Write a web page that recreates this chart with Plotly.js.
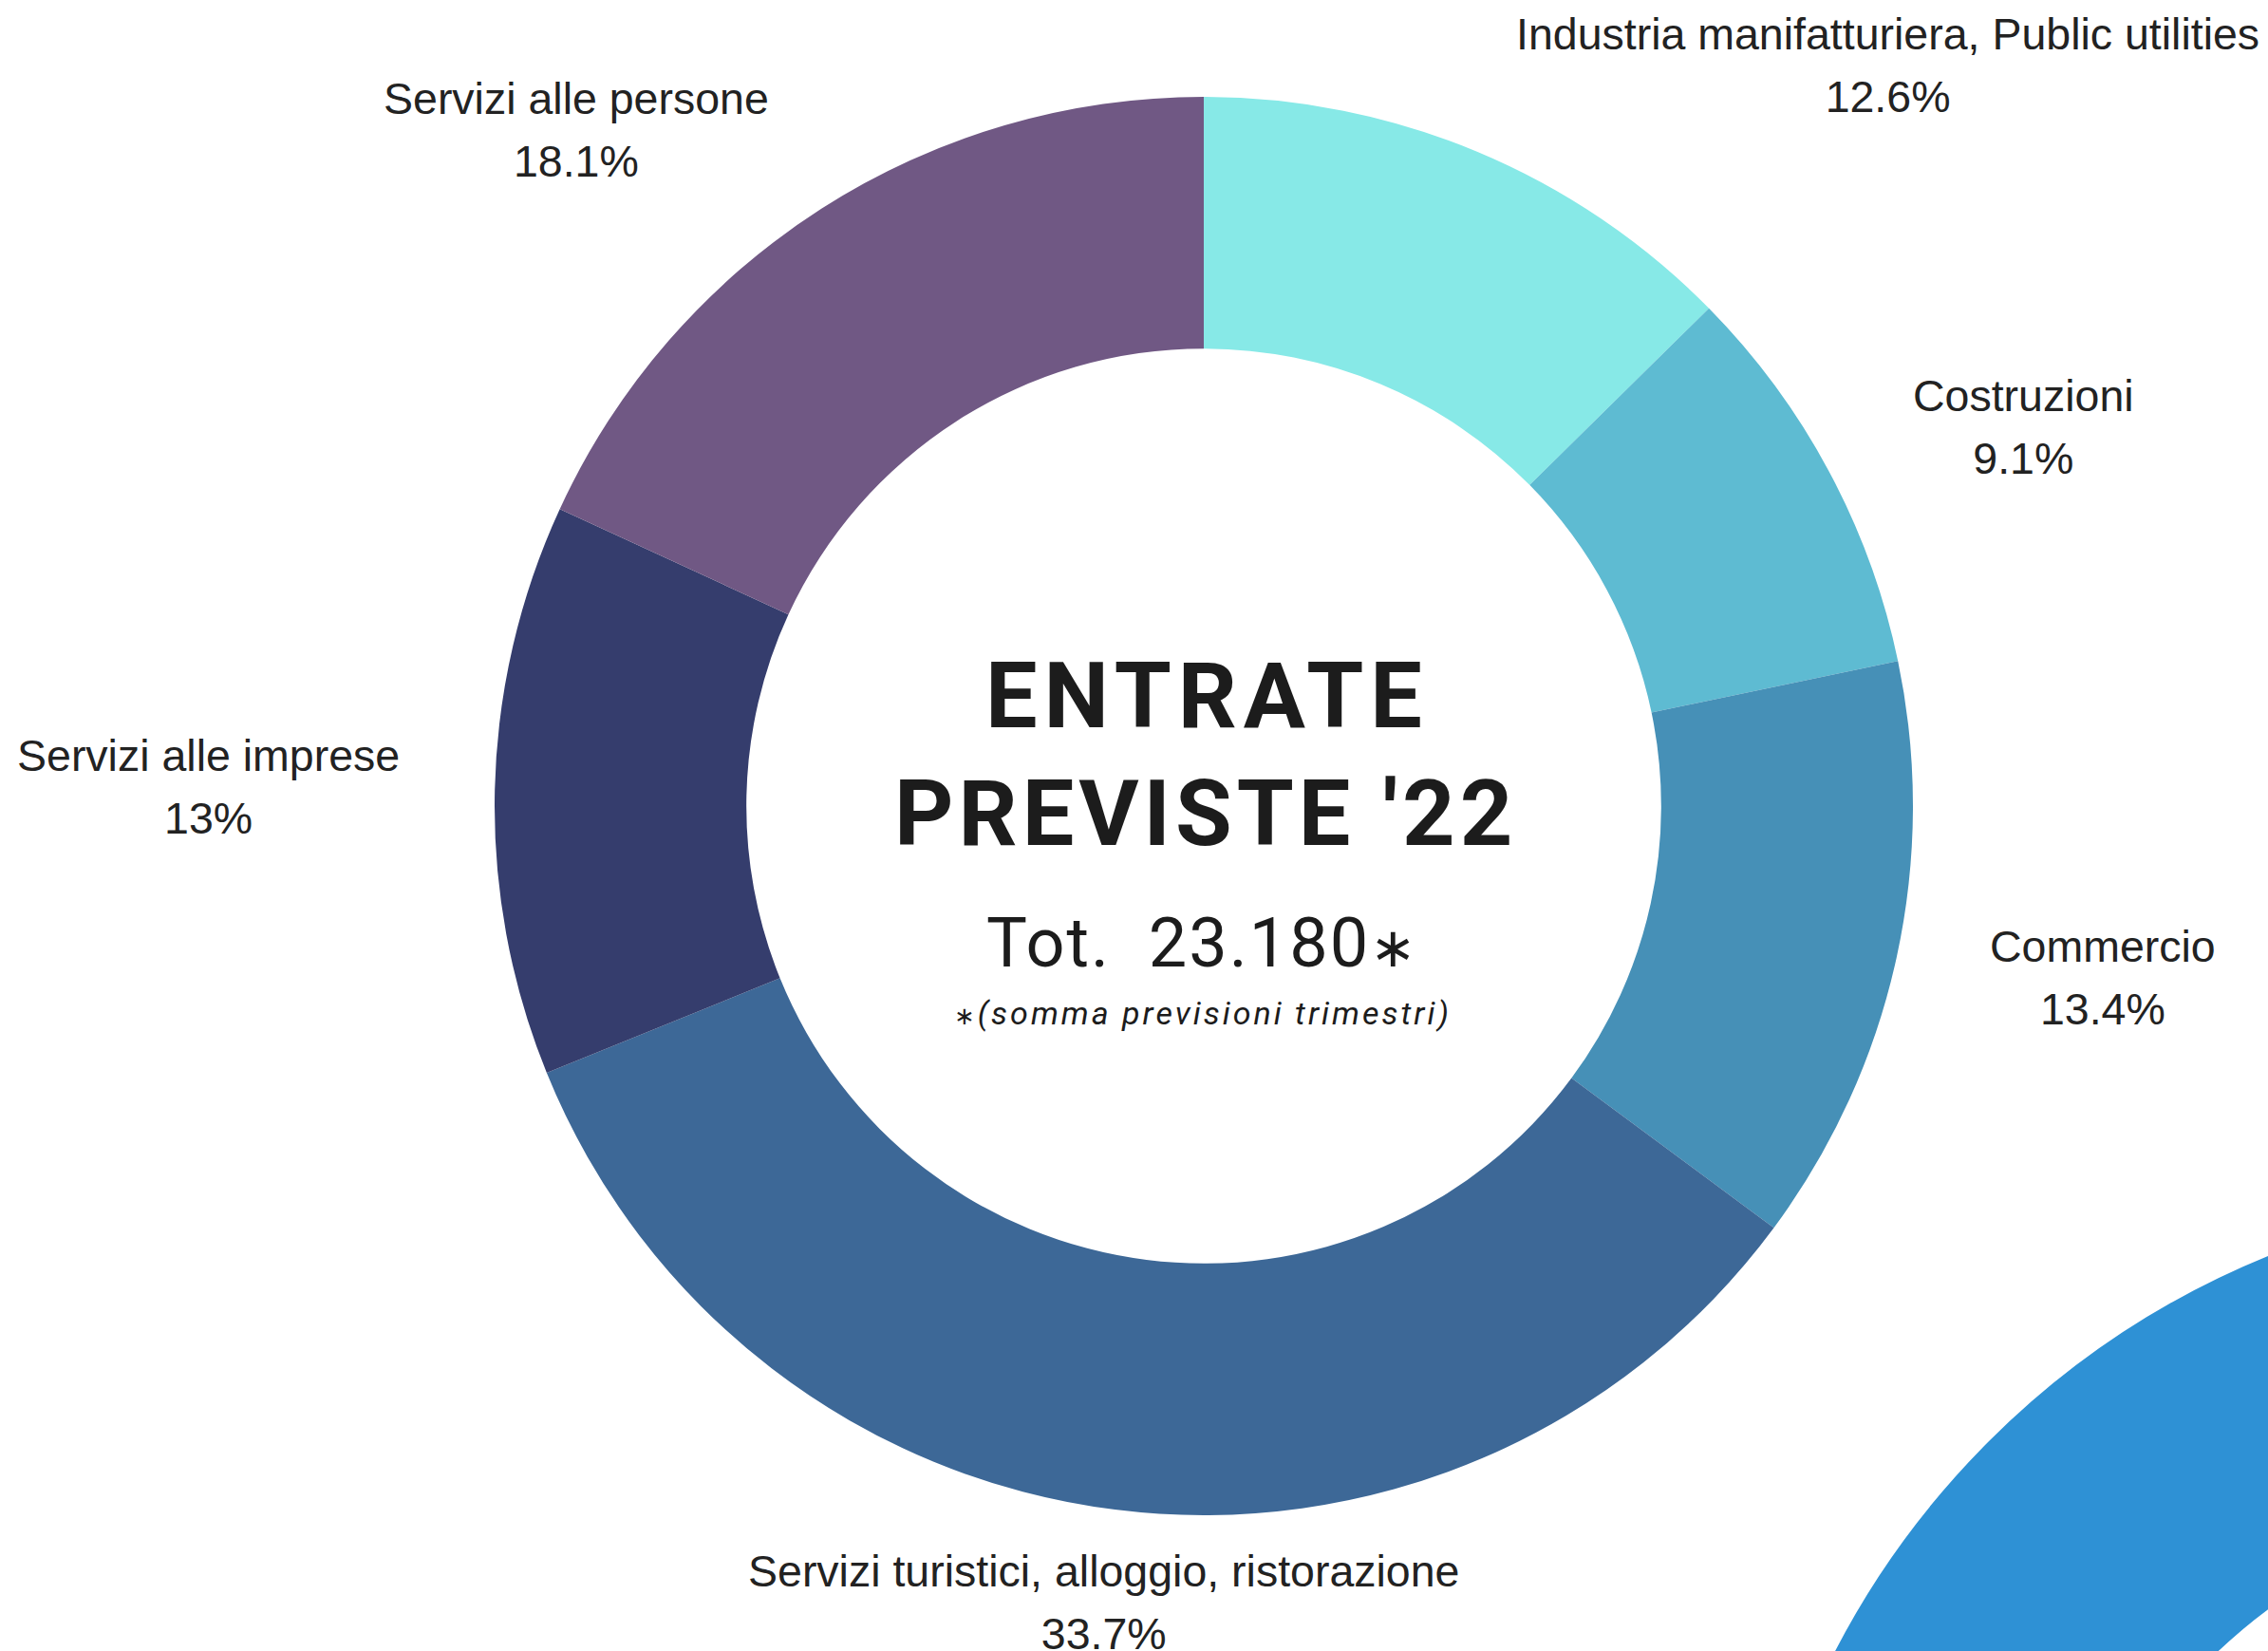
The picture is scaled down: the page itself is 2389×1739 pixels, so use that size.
<!DOCTYPE html>
<html>
<head>
<meta charset="utf-8">
<script src="https://cdn.plot.ly/plotly-3.0.1.min.js"></script>
<style>
  html, body { margin: 0; padding: 0; background: #ffffff; }
  #chart { width: 2389px; height: 1739px; }
</style>
</head>
<body>
<div id="chart"></div>
<script>
// settori (ordine in senso orario dall'alto)
const sectors = [
  "Industria manifatturiera, Public utilities",
  "Costruzioni",
  "Commercio",
  "Servizi turistici, alloggio, ristorazione",
  "Servizi alle imprese",
  "Servizi alle persone"
];

// entrate previste 2022 per settore (somma trimestri, totale 23.180)
const entrate = [2925, 2110, 3110, 7817, 3017, 4201];

const sectorColors = ["#87E9E7", "#5EBBD2", "#4690B7", "#3D6897", "#353D6D", "#705884"];

const titleLines = ["ENTRATE", "PREVISTE '22"];
const totalLabel = "Tot.  23.180";
const noteLabel = "(somma previsioni trimestri)";

const W = 2389, H = 1739;
const px = v => v / W;
const py = v => 1 - v / H;

// geometria della ciambella (pixel)
const CX = 1268, CY = 849, R = 747;
const LABEL_R = R * 1.132;

const donut = {
  type: "pie",
  labels: sectors,
  values: entrate,
  sort: false,
  direction: "clockwise",
  rotation: 0,
  hole: 0.645,
  marker: { colors: sectorColors, line: { width: 0 } },
  textinfo: "none",
  domain: { x: [px(CX - R), px(CX + R)], y: [py(CY + R), py(CY - R)] },
  showlegend: false,
  hoverinfo: "none"
};

// percentuale come la scrive plotly (3 cifre significative)
function formatPct(v) {
  let s = (v * 100).toPrecision(3);
  if (s.indexOf(".") !== -1) s = s.replace(/[.]?0+$/, "");
  return s + "%";
}

// etichette esterne: ancorate sul raggio medio di ogni fetta
const total = entrate.reduce((a, b) => a + b, 0);
let cum = 0;
const sliceLabels = sectors.map((name, i) => {
  const mid = (cum + entrate[i] / 2) / total * 2 * Math.PI;
  cum += entrate[i];
  const s = Math.sin(mid), c = Math.cos(mid);
  const anchor = Math.abs(s) < 0.25 ? "center" : (s > 0 ? "left" : "right");
  return {
    text: '<span style="font-size:46.5px">' + name + "<br>" + formatPct(entrate[i] / total) + "</span>",
    x: px(CX + LABEL_R * s), y: py(CY - LABEL_R * c),
    xref: "paper", yref: "paper",
    xanchor: anchor, yanchor: "middle", align: "center", showarrow: false,
    font: { family: "Liberation Sans, Arial, sans-serif", size: 50.4, color: "#222222" }
  };
});

const star = '<span style="font-size:58px;font-family:DejaVu Sans">∗</span>';

const layout = {
  width: W,
  height: H,
  margin: { l: 0, r: 0, t: 0, b: 0 },
  paper_bgcolor: "#ffffff",
  showlegend: false,
  shapes: [
    // anello decorativo in basso a destra
    {
      type: "circle", xref: "paper", yref: "paper",
      x0: px(2726 - 729.5), x1: px(2726 + 729.5),
      y0: py(2150 + 729.5), y1: py(2150 - 729.5),
      line: { color: "#2E91D5", width: 327 },
      fillcolor: "rgba(0,0,0,0)",
      layer: "below"
    }
  ],
  annotations: sliceLabels.concat([
    {
      text: '<span style="letter-spacing:7px">' + titleLines[0] + '</span>',
      x: px(CX + 3), y: py(733), xref: "paper", yref: "paper",
      xanchor: "center", yanchor: "middle", showarrow: false,
      font: { family: "Roboto, sans-serif", size: 97, weight: 700, color: "#1c1c1c" }
    },
    {
      text: '<span style="letter-spacing:5px">' + titleLines[1] + '</span>',
      x: px(CX + 2), y: py(857.5), xref: "paper", yref: "paper",
      xanchor: "center", yanchor: "middle", showarrow: false,
      font: { family: "Roboto, sans-serif", size: 97, weight: 700, color: "#1c1c1c" }
    },
    {
      text: '<span style="letter-spacing:2px">' + totalLabel + star + '</span>',
      x: px(1266), y: py(993.5), xref: "paper", yref: "paper",
      xanchor: "center", yanchor: "middle", showarrow: false,
      font: { family: "Roboto, sans-serif", size: 72, weight: 400, color: "#1c1c1c" }
    },
    {
      text: '<span style="letter-spacing:3px"><span style="font-family:DejaVu Sans;font-style:normal;font-size:26px">∗</span>' + noteLabel + '</span>',
      x: px(1267), y: py(1067), xref: "paper", yref: "paper",
      xanchor: "center", yanchor: "middle", showarrow: false,
      font: { family: "Roboto, sans-serif", size: 34, style: "italic", color: "#1c1c1c" }
    }
  ])
};

Plotly.newPlot("chart", [donut], layout, { staticPlot: true, displayModeBar: false });
</script>
</body>
</html>
